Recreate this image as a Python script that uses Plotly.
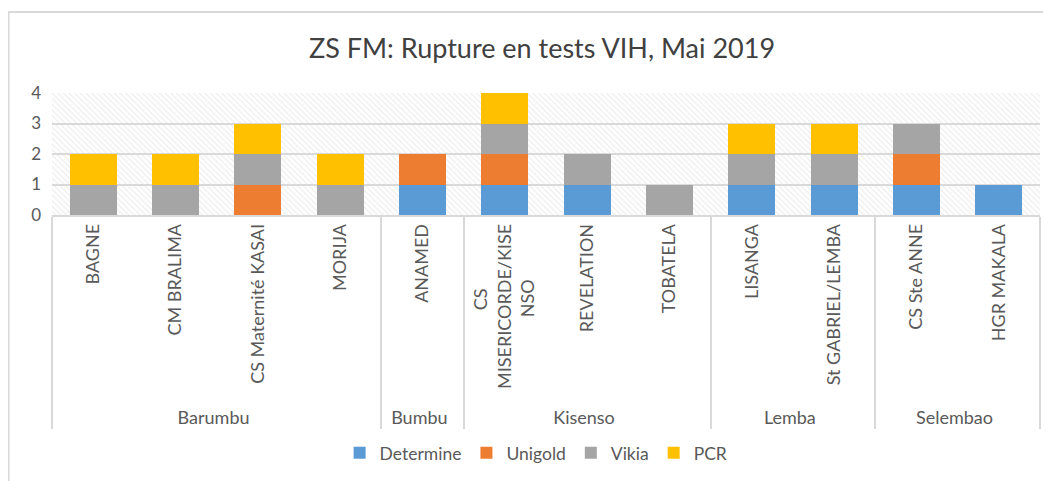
import plotly.graph_objects as go

title = "ZS FM: Rupture en tests VIH, Mai 2019"
districts = ["Barumbu"] * 4 + ["Bumbu"] + ["Kisenso"] * 3 + ["Lemba"] * 2 + ["Selembao"] * 2
NB = "\u00a0"
sites = ["BAGNE", "CM BRALIMA", "CS Maternité KASAI", "MORIJA", "ANAMED",
         "CS" + NB * 14 + "<br>MISERICORDE/KISE<br>NSO" + NB * 12, "REVELATION", "TOBATELA",
         "LISANGA", "St GABRIEL/LEMBA", "CS Ste ANNE", "HGR MAKALA"]
determine = [0, 0, 0, 0, 1, 1, 1, 0, 1, 1, 1, 1]
unigold = [0, 0, 1, 0, 1, 1, 0, 0, 0, 0, 1, 0]
vikia = [1, 1, 1, 1, 0, 1, 1, 1, 1, 1, 1, 0]
pcr = [1, 1, 1, 1, 0, 1, 0, 0, 1, 1, 0, 0]
y_ticks = [0, 1, 2, 3, 4]

series = [("Determine", determine, "#5B9BD5"), ("Unigold", unigold, "#ED7D31"),
          ("Vikia", vikia, "#A5A5A5"), ("PCR", pcr, "#FFC000")]

FONT = "Lato, Carlito, Calibri, sans-serif"
TXT = "#595959"

fig = go.Figure()
# hatched plot-area background
fig.add_trace(go.Bar(x=[0.5], y=[max(y_ticks)], width=[1], xaxis="x", yaxis="y",
                     marker=dict(color="rgba(0,0,0,0)", line_width=0,
                                 pattern=dict(shape="\\", fgcolor="#dcdcdc", size=4,
                                              solidity=0.3)),
                     showlegend=False, hoverinfo="skip"))
for name, vals, col in series:
    fig.add_trace(go.Bar(x=[districts, sites], y=vals, name=name, xaxis="x2", yaxis="y",
                         marker=dict(color=col, line_width=0)))

fig.update_layout(
    width=1043, height=473,
    barmode="stack", bargap=0.43,
    paper_bgcolor="white", plot_bgcolor="white",
    margin=dict(l=44, r=11, t=85, b=266, autoexpand=False),
    font=dict(family=FONT, color=TXT, size=16),
    title=dict(text=title, x=0.512, xanchor="center", y=0.915, yanchor="middle",
               font=dict(family=FONT, size=27, color="#404040")),
    xaxis=dict(range=[0, 1], visible=False, fixedrange=True),
    xaxis2=dict(overlaying="x", anchor="y", side="bottom", type="multicategory",
                automargin=False,
                showline=True, linecolor="#d9d9d9", linewidth=1.5,
                showgrid=False, ticks="", tickangle=-90,
                showdividers=True, dividercolor="#d9d9d9", dividerwidth=1.5,
                tickfont=dict(family=FONT, size=18, color=TXT)),
    yaxis=dict(range=[0, 4], tickvals=y_ticks, showgrid=True, gridcolor="#d9d9d9",
               gridwidth=1.5, zeroline=False, showline=False, ticks="", automargin=False,
               tickfont=dict(family=FONT, size=17, color=TXT), ticklabelstandoff=10),
    legend=dict(orientation="h", x=0.49, xanchor="center", y=-1.95, yanchor="middle",
                font=dict(family=FONT, size=17.5, color=TXT), traceorder="normal"),
    shapes=[dict(type="rect", xref="paper", yref="paper", x0=-0.044, x1=1.2,
                 y0=-3.0, y1=1.664, line=dict(color="#d9d9d9", width=2),
                 fillcolor="rgba(0,0,0,0)", layer="above")],
)

fig.write_html("out.html")
